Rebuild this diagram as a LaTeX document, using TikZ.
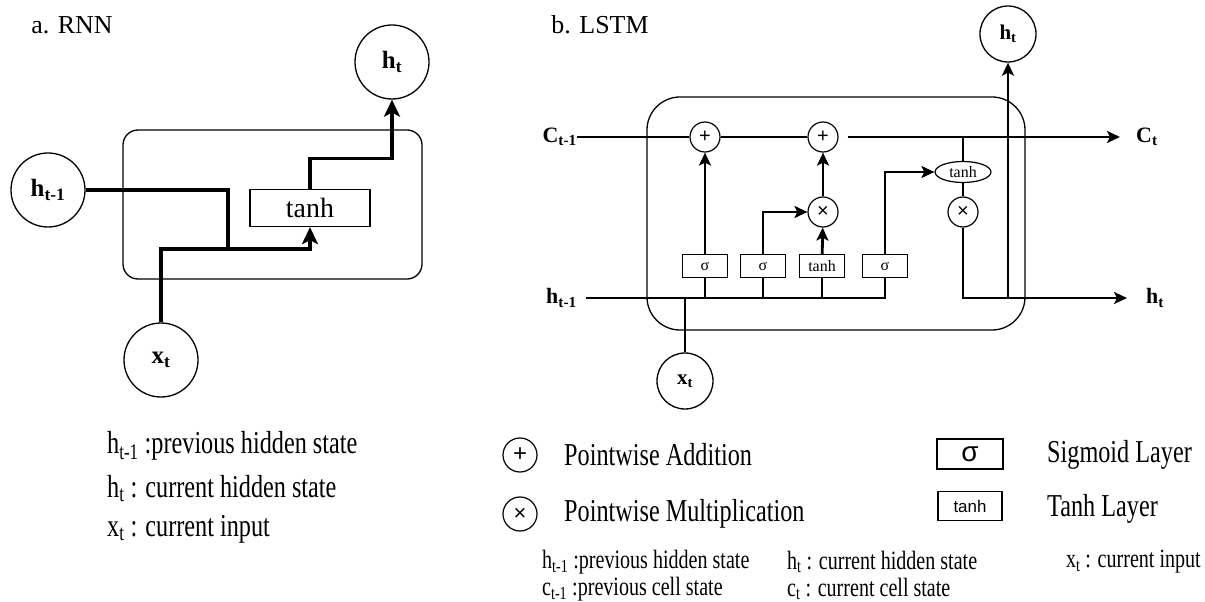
\documentclass[tikz,border=0pt]{standalone}
\usepackage{fontspec}
\setmainfont{Liberation Serif}
\newfontfamily\narrowfont[FakeStretch=0.76]{Liberation Serif}
\newfontfamily\symfont{Liberation Sans}
\usetikzlibrary{arrows.meta,shapes.geometric}
\newcommand\hsub[2]{#1\textsubscript{#2}}
\newcommand\fs[1]{\fontsize{#1}{#1}\selectfont}

\begin{document}
\begin{tikzpicture}
  [x=1bp,y=-1bp,
   wire/.style={line width=2.8bp},
   thinwire/.style={line width=1.4bp},
   arr/.style={wire,-{Stealth[length=13bp,width=12bp,inset=3bp]}},
   bigarr/.style={line width=3.2bp,-{Stealth[length=17bp,width=16bp,inset=4bp]}},
   state/.style={circle,draw,line width=1.3bp,inner sep=0pt,font=\fs{25}\bfseries},
   cell/.style={draw,line width=1.3bp,rounded corners=#1},
   cell/.default=15bp,
   layerbox/.style={rectangle,draw,line width=1.3bp,inner sep=0pt},
   gate/.style={layerbox,fill=white,minimum width=45bp,minimum height=23bp,font=\fs{16}},
   op/.style={circle,draw,line width=1.2bp,fill=white,inner sep=0pt,minimum size=30bp,font=\symfont\fs{20}},
   lbl/.style={inner sep=0pt,font=\fs{22}\bfseries},
   note/.style={anchor=west,inner sep=0pt,font=\narrowfont\fs{32}},
   smallnote/.style={anchor=west,inner sep=0pt,font=\narrowfont\fs{26.5}}]

  \useasboundingbox (0,0) rectangle (1205,602);

  % a. RNN
  \node[font=\fs{26}] (rtitle) at (72,25) {a. RNN};
  \node[cell,minimum width=299bp,minimum height=149bp] (rcell) at (272.5,204.5) {};
  \node[state,minimum size=74bp] (rht) at (392,62) {\hsub{h}{t}};
  \node[state,minimum size=74bp] (rhp) at (48,190) {\hsub{h}{t-1}};
  \node[state,minimum size=74bp] (rx) at (161,360) {\hsub{x}{t}};
  \node[layerbox,minimum width=120bp,minimum height=37bp,font=\fs{28}] (rtanh) at (310,208) {tanh};
  \coordinate (rj) at (228,249);

  \draw[line width=3.2bp] (rhp) -| (rj);
  \draw[bigarr] (rx) |- (rj) -| (rtanh);
  \draw[bigarr] (rtanh.north) -- ++(0,-30) -| (rht);

  \node[note] (rn1) at (107,446) {\hsub{h}{t-1} :previous hidden state};
  \node[note] (rn2) at (107,489) {\hsub{h}{t} : current hidden state};
  \node[note] (rn3) at (107,529) {\hsub{x}{t} : current input};

  % b. LSTM
  \node[font=\fs{26}] (ltitle) at (600,25) {b. LSTM};
  \node[cell=33bp,minimum width=378bp,minimum height=233bp] (lcell) at (836,213.5) {};
  \node[state,minimum size=56bp,font=\fs{21}\bfseries] (lht) at (1008,34) {\hsub{h}{t}};
  \node[state,minimum size=56bp,font=\fs{21}\bfseries] (lx) at (685,381) {\hsub{x}{t}};
  \node[lbl,anchor=east] (cin) at (577,137) {\hsub{C}{t-1}};
  \node[lbl,anchor=east] (hin) at (577,298) {\hsub{h}{t-1}};
  \node[lbl,anchor=west] (cout) at (1136,137) {\hsub{C}{t}};
  \node[lbl,anchor=west] (hout) at (1146,298) {\hsub{h}{t}};

  \node[op] (add1) at (705,137) {+};
  \node[op] (add2) at (823,137) {+};
  \node[op] (mul1) at (823,212) {×};
  \node[op] (mul2) at (963,212) {×};
  \node[ellipse,draw,line width=1.2bp,fill=white,inner sep=0pt,minimum width=56bp,minimum height=21bp,font=\fs{16}] (tanhc) at (963,172) {tanh};

  \node[gate] (g1) at (705,266) {σ};
  \node[gate] (g2) at (763,266) {σ};
  \node[gate] (g3) at (822,266) {tanh};
  \node[gate] (g4) at (885,266) {σ};

  \draw[arr,shorten <=9bp,shorten >=16bp] (cin) -- (add1) -- (add2) -- (cout);
  \draw[wire,shorten <=9bp] (hin) -- (hin -| g4) -- (g4);
  \foreach \g in {g1,g2,g3}
    \draw[wire] (\g) -- (\g |- hin);
  \draw[arr] (g1) -- (add1);
  \draw[arr] (g2) |- (mul1);
  \draw[arr] (g3) -- (mul1);
  \draw[arr] (mul1) -- (add2);
  \draw[arr] (g4) |- (tanhc);
  \draw[thinwire] (tanhc) -- (tanhc |- add2);
  \draw[thinwire] (tanhc) -- (mul2);
  \draw[arr,shorten >=19bp] (mul2) |- (hout);
  \draw[arr] (lht |- hin) -- (lht);
  \draw[wire] (lx) -- (lx |- hin);

  % legend
  \node[op,minimum size=34bp,font=\symfont\fs{24}] (keyadd) at (520,455) {+};
  \node[note] (keyaddt) at (564,455) {Pointwise Addition};
  \node[op,minimum size=34bp,font=\symfont\fs{22}] (keymul) at (520,514) {×};
  \node[note] (keymult) at (564,514) {Pointwise Multiplication};
  \node[layerbox,minimum width=66bp,minimum height=30bp,font=\symfont\fs{28}] (keysig) at (970,454) {σ};
  \node[layerbox,minimum width=64bp,minimum height=29bp,font=\symfont\fs{17}] (keytanh) at (970,506) {tanh};
  \node[note] (keysigt) at (1047,455) {Sigmoid Layer};
  \node[note] (keytanht) at (1047,509) {Tanh Layer};

  \node[smallnote] (ln1) at (542,562) {\hsub{h}{t-1} :previous hidden state};
  \node[smallnote] (ln2) at (787,562) {\hsub{h}{t} : current hidden state};
  \node[smallnote,anchor=east] (ln3) at (1201,562) {\hsub{x}{t} : current input};
  \node[smallnote] (ln4) at (542,589) {\hsub{c}{t-1} :previous cell state};
  \node[smallnote] (ln5) at (787,589) {\hsub{c}{t} : current cell state};

\end{tikzpicture}
\end{document}
